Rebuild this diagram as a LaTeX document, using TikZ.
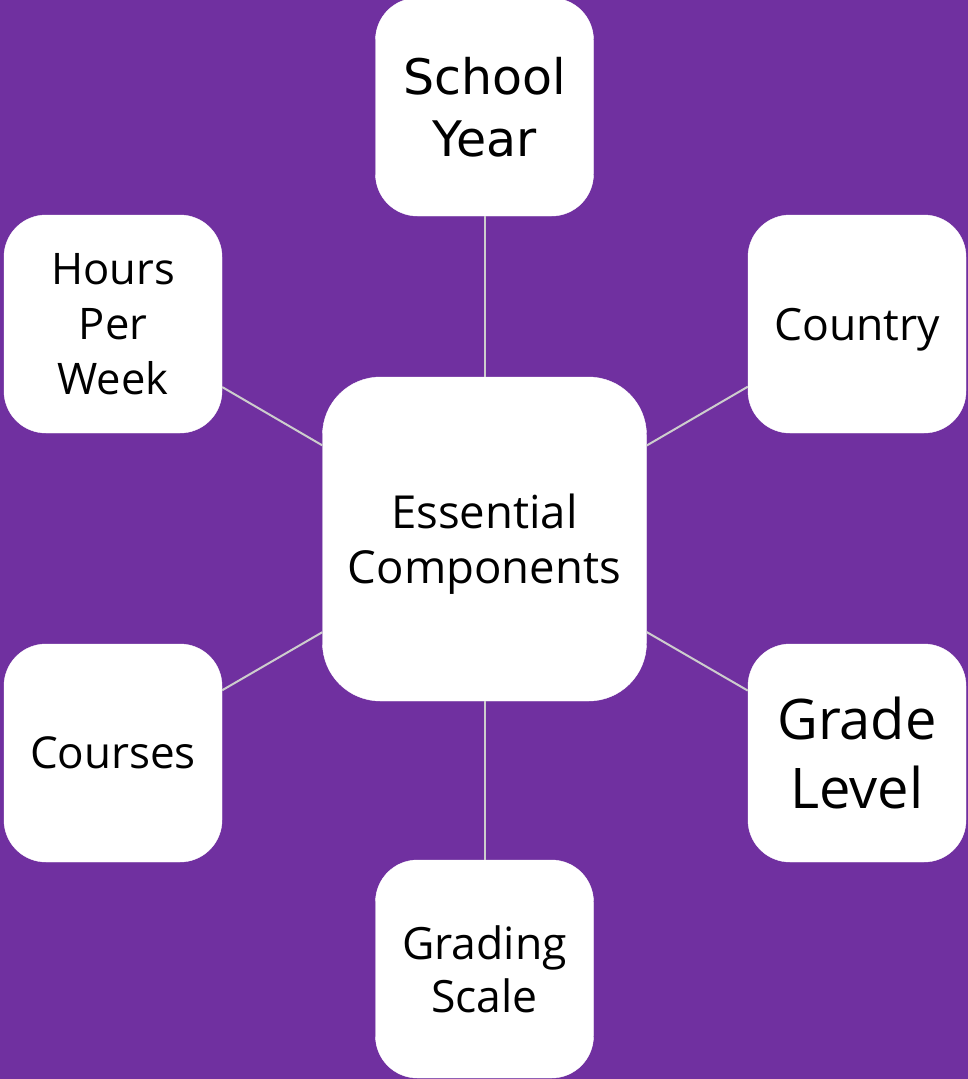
\documentclass[tikz,border=0pt]{standalone}
\usepackage{fontspec}
\setmainfont{Open Sans}
\newfontfamily\dejavu{DejaVu Sans}
\definecolor{bgpurple}{HTML}{7030A0}
\definecolor{linkgray}{HTML}{CDCDCD}
\begin{document}
\begin{tikzpicture}[x=1pt,y=-1pt,
  leaf/.style={draw=white,fill=white,rectangle,rounded corners=42pt,
    minimum width=218pt,minimum height=218pt,align=center,inner sep=0pt,text=black},
  hub/.style={draw=white,fill=white,rectangle,rounded corners=58pt,
    minimum width=324pt,minimum height=324pt,align=center,inner sep=0pt,text=black},
  link/.style={draw=linkgray,line width=2pt}]
\fill[bgpurple] (0,0) rectangle (968,1079);
\useasboundingbox (0,0) rectangle (968,1079);
\node[hub,font=\fontsize{45.5}{55}\selectfont,text depth=0pt] (c) at (484.5,539) {Essential\\Components};
\node[leaf,font=\dejavu\fontsize{49}{62}\selectfont] (sy) at (484.5,107) {School\\Year};
\node[leaf,font=\fontsize{43.5}{55}\selectfont] (hw) at (113,324) {Hours\\Per\\Week};
\node[leaf,font=\fontsize{44.5}{55}\selectfont,text depth=0pt] (co) at (857,324) {Country};
\node[leaf,font=\fontsize{44}{55}\selectfont] (cr) at (113,753) {Courses};
\node[leaf,font=\fontsize{56}{69}\selectfont] (gl) at (857,753) {Grade\\Level};
\node[leaf,font=\fontsize{44.5}{53}\selectfont] (gs) at (484.5,969) {Grading\\Scale};
\draw[link] (c) -- (sy);
\draw[link] (c) -- (hw);
\draw[link] (c) -- (co);
\draw[link] (c) -- (cr);
\draw[link] (c) -- (gl);
\draw[link] (c) -- (gs);
\end{tikzpicture}
\end{document}
